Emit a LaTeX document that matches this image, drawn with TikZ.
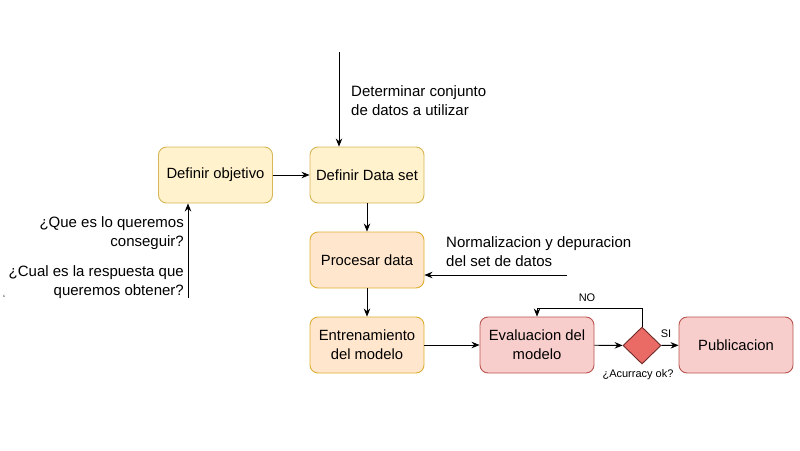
\documentclass[tikz,border=0pt]{standalone}
\usepackage{fontspec}
\setmainfont{Liberation Sans}
\usetikzlibrary{arrows.meta,shapes.geometric}
\definecolor{yfill}{HTML}{FFF2CC}
\definecolor{ydraw}{HTML}{D6B656}
\definecolor{ofill}{HTML}{FFE6CC}
\definecolor{odraw}{HTML}{D79B00}
\definecolor{rfill}{HTML}{F8CECC}
\definecolor{rdraw}{HTML}{B85450}
\definecolor{dfill}{HTML}{EA6B66}
\definecolor{ddraw}{HTML}{6E2A27}
\tikzset{
  box/.style={rounded corners=8pt, minimum width=114pt, minimum height=56pt, line width=0.9pt, align=center, inner sep=2pt,
    font=\fontsize{14.8}{19}\selectfont},
  ybox/.style={box, fill=yfill, draw=ydraw},
  obox/.style={box, fill=ofill, draw=odraw!80},
  rbox/.style={box, fill=rfill, draw=rdraw},
  lbl/.style={inner sep=0pt, font=\fontsize{15}{18.8}\selectfont},
  slbl/.style={inner sep=0pt, font=\fontsize{11}{13}\selectfont},
  arr/.style={-{Stealth[length=8pt,width=6.5pt]}, line width=0.9pt, black},
}
\begin{document}
\begin{tikzpicture}[x=1pt,y=-1pt]
\useasboundingbox (0,0) rectangle (800,450);
\node[ybox] (obj) at (215.5,175) {Definir objetivo};
\node[ybox] (dset) at (367,175) {Definir Data set};
\node[obox] (proc) at (367,260) {Procesar data};
\node[obox] (ent) at (367,345) {Entrenamiento\\del modelo};
\node[rbox] (eval) at (537,345) {Evaluacion del\\modelo};
\node[diamond, minimum width=38pt, minimum height=37pt, inner sep=0pt, fill=dfill, draw=ddraw, line width=0.9pt] (dia) at (642,345.5) {};
\node[rbox] (pub) at (736,345) {Publicacion};

\coordinate (top) at (339,52);
\draw[arr] (top) -- (top |- dset.north);
\node[lbl, anchor=west, align=left] (tlab) at (351,101) {Determinar conjunto\\de datos a utilizar};

\draw[arr] (obj) -- (dset);
\draw[arr] (dset) -- (proc);
\draw[arr] (proc) -- (ent);
\draw[arr] (ent) -- (eval);
\draw[arr] (eval) -- (dia);
\draw[arr] (dia) -- (pub);

\coordinate (nr) at (567,275);
\draw[arr] (nr) -- (nr -| proc.east);
\node[lbl, anchor=west, align=left] (nlab) at (446,251.5) {Normalizacion y depuracion\\del set de datos};

\coordinate (lb) at (188,298);
\draw[arr] (lb) -- (lb |- obj.south);
\node[lbl, anchor=east, align=right] (q1) at (184,233.5) {¿Que es lo queremos\\conseguir?};
\node[lbl, anchor=east, align=right] (q2) at (184,282.5) {¿Cual es la respuesta que\\queremos obtener?};

\coordinate (nob) at (537,308);
\draw[arr] (dia.north) |- (nob) -- (nob |- eval.north);
\node[slbl] (no) at (587,298) {NO};
\node[slbl] (si) at (666,334) {SI};
\node[slbl] (acc) at (638,375) {¿Acurracy ok?};
\node[inner sep=0pt, font=\fontsize{9}{9}\selectfont] (stray) at (4,298) {‘};
\end{tikzpicture}
\end{document}
